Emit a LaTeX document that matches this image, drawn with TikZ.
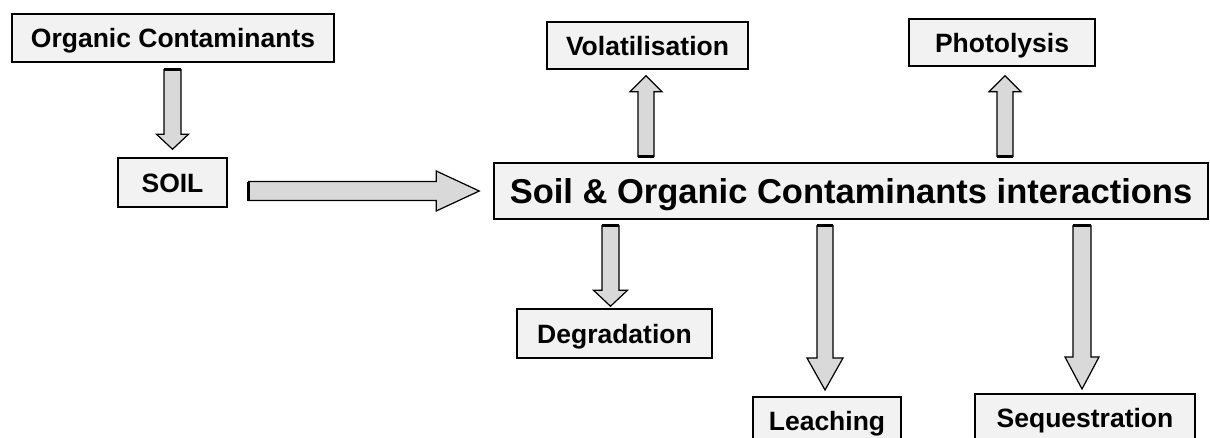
\documentclass[tikz,border=0pt]{standalone}
\usepackage{fontspec}
\setmainfont{Liberation Sans}
\usetikzlibrary{calc}
\definecolor{boxfill}{HTML}{F2F2F2}
\definecolor{arrfill}{HTML}{D9D9D9}
\tikzset{
  lbl/.style={draw=black, line width=1.5pt, fill=boxfill,
    font=\bfseries\fontsize{26.5}{30}\selectfont,
    text height=19pt, text depth=0pt, inner sep=0pt, minimum height=48pt},
  big/.style={lbl, font=\bfseries\fontsize{34.5}{40}\selectfont,
    text height=24.7pt, minimum height=56pt},
  blkarrow/.style={draw=black, line width=1.2pt, fill=arrfill, line join=miter},
  tailedge/.style={draw=black, line width=3pt},
}
% #1 tail, #2 tip, #3 shaft half width, #4 head half width, #5 head length
\newcommand\blockarrow[5]{%
  \coordinate (ah) at ($(#2)!#5!(#1)$);
  \draw[blkarrow] ($(#1)!#3!90:(#2)$) -- ($(ah)!#3!90:(#2)$) -- ($(ah)!#4!90:(#2)$)
    -- (#2) -- ($(ah)!#4!-90:(#2)$) -- ($(ah)!#3!-90:(#2)$) -- ($(#1)!#3!-90:(#2)$) -- cycle;
  \draw[tailedge] ($(#1)!#3!90:(#2)$) -- ($(#1)!#3!-90:(#2)$);
}
\begin{document}
\begin{tikzpicture}[x=1pt,y=-1pt]
\clip (0,0) rectangle (1210,437);
\fill[white] (0,0) rectangle (1210,437);

\node[lbl, minimum width=322pt] (oc) at (173,38) {Organic Contaminants};
\node[lbl, minimum width=109pt, minimum height=49pt] (soil) at (172.5,182.5) {SOIL};
\node[big, minimum width=714pt] (main) at (851,191) {Soil \& Organic Contaminants interactions};
\node[lbl, minimum width=201pt, minimum height=47pt] (vol) at (647.5,45.5) {Volatilisation};
\node[lbl, minimum width=186pt, minimum height=47pt] (photo) at (1002,42.5) {Photolysis};
\node[lbl, minimum width=195pt, minimum height=49pt] (deg) at (614.5,333.5) {Degradation};
\node[lbl, minimum width=148pt, anchor=north] (leach) at (827,396) {Leaching};
\node[lbl, minimum width=220pt, anchor=north] (seq) at (1085,393) {Sequestration};

\coordinate (t1) at ($(oc.south -| soil.north)+(0,7)$);
\coordinate (h1) at ($(soil.north)+(0,-8)$);
\blockarrow{t1}{h1}{8.5pt}{16pt}{15pt}

\coordinate (t2) at ($(soil.east |- main.west)+(21,0)$);
\coordinate (h2) at ($(main.west)+(-14,0)$);
\blockarrow{t2}{h2}{9.5pt}{20pt}{43pt}

\coordinate (t3) at ($(main.north -| vol.south)+(-1.5,-6)$);
\coordinate (h3) at ($(vol.south)+(-1.5,6)$);
\blockarrow{t3}{h3}{8pt}{16pt}{16pt}

\coordinate (t4) at ($(main.north -| photo.south)+(3,-6)$);
\coordinate (h4) at ($(photo.south)+(3,9)$);
\blockarrow{t4}{h4}{8pt}{16pt}{16pt}

\coordinate (t5) at ($(main.south -| deg.north)+(-4,6)$);
\coordinate (h5) at ($(deg.north)+(-4,-2)$);
\blockarrow{t5}{h5}{8.5pt}{17pt}{16pt}

\coordinate (t6) at ($(main.south -| leach.north)+(-2,6)$);
\coordinate (h6) at ($(leach.north)+(-2,-6)$);
\blockarrow{t6}{h6}{8pt}{18pt}{32pt}

\coordinate (t7) at ($(main.south -| seq.north)+(-3,6)$);
\coordinate (h7) at ($(seq.north)+(-3,-4)$);
\blockarrow{t7}{h7}{9pt}{17pt}{32pt}
\end{tikzpicture}
\end{document}
